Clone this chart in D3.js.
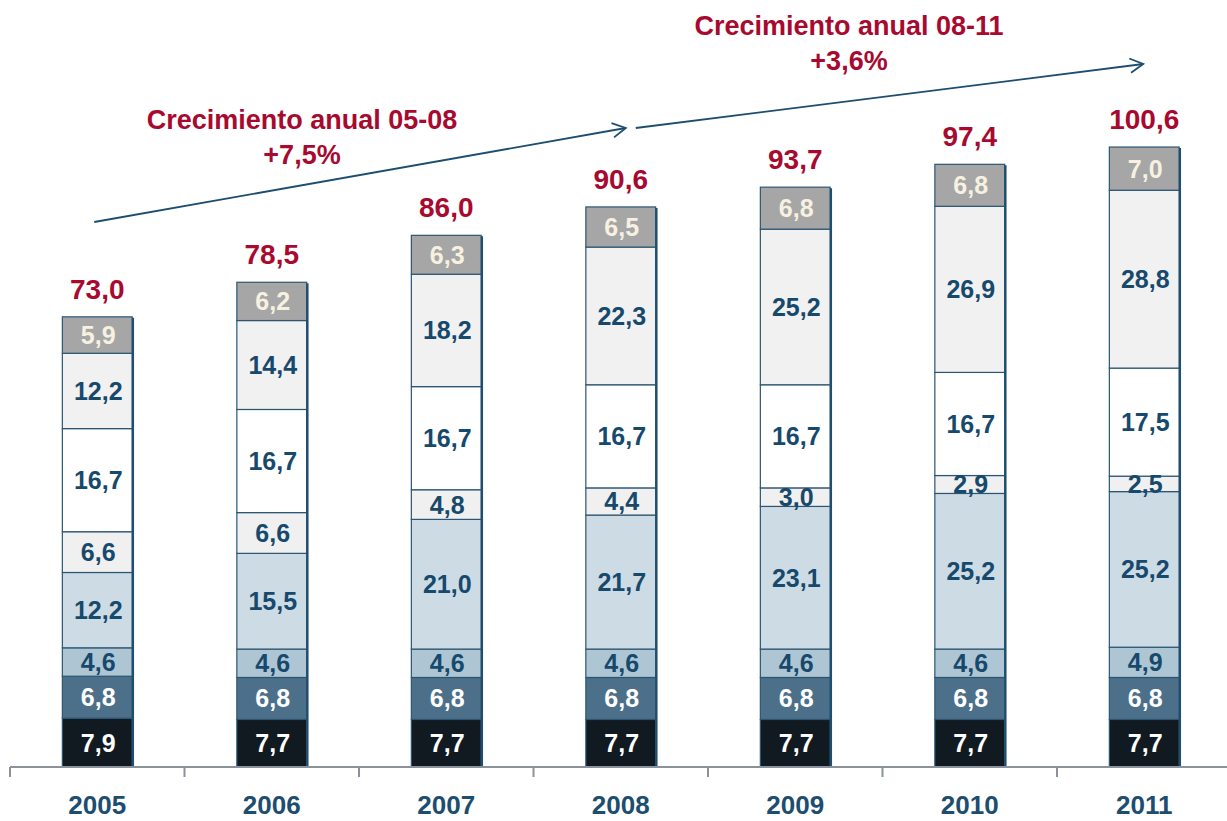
<!DOCTYPE html>
<html>
<head>
<meta charset="utf-8">
<script src="https://cdn.jsdelivr.net/npm/d3@7"></script>
<style>
  html, body { margin: 0; padding: 0; background: #ffffff; }
  svg { display: block; font-family: "Liberation Sans", Arial, sans-serif; }
</style>
</head>
<body>
<svg id="chart" width="1227" height="821"></svg>
<script>
// ---- data ----
const years = ["2005", "2006", "2007", "2008", "2009", "2010", "2011"];
const totalLabels = ["73,0", "78,5", "86,0", "90,6", "93,7", "97,4", "100,6"];
const seg1 = [7.9, 7.7, 7.7, 7.7, 7.7, 7.7, 7.7];
const seg2 = [6.8, 6.8, 6.8, 6.8, 6.8, 6.8, 6.8];
const seg3 = [4.6, 4.6, 4.6, 4.6, 4.6, 4.6, 4.9];
const seg4 = [12.2, 15.5, 21.0, 21.7, 23.1, 25.2, 25.2];
const seg5 = [6.6, 6.6, 4.8, 4.4, 3.0, 2.9, 2.5];
const seg6 = [16.7, 16.7, 16.7, 16.7, 16.7, 16.7, 17.5];
const seg7 = [12.2, 14.4, 18.2, 22.3, 25.2, 26.9, 28.8];
const seg8 = [5.9, 6.2, 6.3, 6.5, 6.8, 6.8, 7.0];
const growth1 = ["Crecimiento anual 05-08", "+7,5%"];
const growth2 = ["Crecimiento anual 08-11", "+3,6%"];

// ---- styles ----
const series = [seg1, seg2, seg3, seg4, seg5, seg6, seg7, seg8];
const fills = ["#111a21", "#4c7089", "#aec6d4", "#cddbe5", "#f0f0f0", "#ffffff", "#f1f1f1", "#a6a6a6"];
const labelColors = ["#ffffff", "#ffffff", "#17496d", "#17496d", "#17496d", "#17496d", "#17496d", "#f6f1e0"];
const navy = "#1d4d6f";
const red = "#a80a2f";

const svg = d3.select("#chart");

const x = d3.scaleBand().domain(years).range([10, 1231.5]).paddingInner(0.6).paddingOuter(0.3);
const y = d3.scaleLinear().domain([0, 100]).range([767, 149.5]);
const bw = x.bandwidth();
const step = x.step();

const fmt = v => d3.format(".1f")(v).replace(".", ",");

// stacked layout
const rows = years.map((yr, i) => {
  const o = { year: yr };
  series.forEach((s, k) => o["s" + k] = s[i]);
  return o;
});
const keys = series.map((s, k) => "s" + k);
const stacked = d3.stack().keys(keys)(rows);

const g = svg.append("g");

stacked.forEach((layer, k) => {
  const lg = g.append("g");
  lg.selectAll("rect").data(layer).join("rect")
    .attr("x", d => x(d.data.year))
    .attr("y", d => y(d[1]))
    .attr("width", bw)
    .attr("height", d => y(d[0]) - y(d[1]))
    .attr("fill", fills[k])
    .attr("stroke", "#2b5673")
    .attr("stroke-width", 1.2);
});

// right-edge shadow
const tops = rows.map((r, i) => d3.sum(series, s => s[i]));
g.selectAll("line.shadow").data(years).join("line")
  .attr("class", "shadow")
  .attr("x1", d => x(d) + bw + 0.8)
  .attr("x2", d => x(d) + bw + 0.8)
  .attr("y1", (d, i) => y(tops[i]) + 1)
  .attr("y2", y(0))
  .attr("stroke", "#1f4e6e")
  .attr("stroke-width", 2.2);

// segment labels
stacked.forEach((layer, k) => {
  g.append("g").selectAll("text").data(layer).join("text")
    .attr("x", d => x(d.data.year) + bw / 2 + 1)
    .attr("y", d => (y(d[0]) + y(d[1])) / 2)
    .attr("dy", "0.36em")
    .attr("text-anchor", "middle")
    .attr("font-size", 25)
    .attr("font-weight", "bold")
    .attr("fill", labelColors[k])
    .text(d => fmt(d[1] - d[0]));
});

// totals
g.selectAll("text.total").data(years).join("text")
  .attr("class", "total")
  .attr("x", d => x(d) + bw / 2)
  .attr("y", (d, i) => y(tops[i]) - 18)
  .attr("text-anchor", "middle")
  .attr("font-size", 28)
  .attr("font-weight", "bold")
  .attr("fill", red)
  .text((d, i) => totalLabels[i]);

// axis
const axisY = y(0);
svg.append("line")
  .attr("x1", 10).attr("x2", 1227)
  .attr("y1", axisY).attr("y2", axisY)
  .attr("stroke", "#8a939c").attr("stroke-width", 2);
const tickXs = years.map(d => x(d) - (step - bw) / 2).concat([x(years[years.length - 1]) + bw + (step - bw) / 2]);
svg.selectAll("line.tick").data(tickXs).join("line")
  .attr("class", "tick")
  .attr("x1", d => d).attr("x2", d => d)
  .attr("y1", axisY).attr("y2", axisY + 10)
  .attr("stroke", "#8a939c").attr("stroke-width", 2);

const xAxis = d3.axisBottom(x).tickSize(0).tickPadding(0);
const ax = svg.append("g").attr("transform", `translate(0,${axisY})`).call(xAxis);
ax.select(".domain").remove();
ax.selectAll("text")
  .attr("y", 47)
  .attr("dy", 0)
  .attr("font-size", 26)
  .attr("font-weight", "bold")
  .attr("font-family", "'Liberation Sans', Arial, sans-serif")
  .attr("fill", navy);

// growth arrows
function arrow(x1, y1, x2, y2) {
  svg.append("line")
    .attr("x1", x1).attr("y1", y1).attr("x2", x2).attr("y2", y2)
    .attr("stroke", navy).attr("stroke-width", 1.8);
  const ang = Math.atan2(y2 - y1, x2 - x1);
  const L = 15, a = 0.5;
  const p1 = [x2 - L * Math.cos(ang - a), y2 - L * Math.sin(ang - a)];
  const p2 = [x2 - L * Math.cos(ang + a), y2 - L * Math.sin(ang + a)];
  svg.append("path")
    .attr("d", `M${p1[0]},${p1[1]} L${x2},${y2} L${p2[0]},${p2[1]}`)
    .attr("fill", "none").attr("stroke", navy).attr("stroke-width", 1.8);
}
const cx = d => x(d) + bw / 2;
arrow(cx("2005") - 3, 222, cx("2008") + 5, 128);
arrow(cx("2008") + 15, 128, cx("2011") - 1, 64);

function annot(lines, xc, y0) {
  svg.append("text").attr("x", xc).attr("y", y0)
    .attr("text-anchor", "middle").attr("font-size", 27).attr("font-weight", "bold")
    .attr("fill", red).text(lines[0]);
  svg.append("text").attr("x", xc).attr("y", y0 + 35)
    .attr("text-anchor", "middle").attr("font-size", 27).attr("font-weight", "bold")
    .attr("fill", red).text(lines[1]);
}
annot(growth1, 302, 129);
annot(growth2, 849, 35);
</script>
</body>
</html>
